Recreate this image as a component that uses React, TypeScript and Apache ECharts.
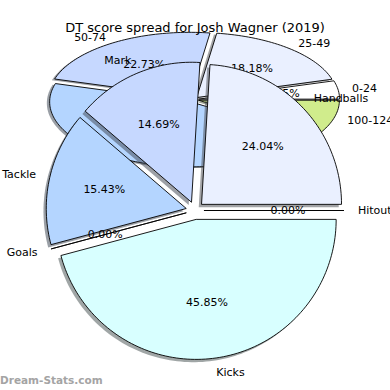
import React, { useEffect, useRef } from "react";
import * as echarts from "echarts";

const TITLE = "DT score spread for Josh Wagner (2019)";
const WATERMARK = "Dream-Stats.com";

// Front pie: DT score sources
const statCategories = ["Hitout", "Handballs", "Mark", "Tackle", "Goals", "Kicks"];
const statValues = [0, 24.04, 14.69, 15.43, 0, 45.85];
const statColors = ["#ffffff", "#eaf0ff", "#c6d8ff", "#b4d5ff", "#e8e8ff", "#d8ffff"];

// Background pie: DT score ranges (games)
const rangeCategories = ["0-24", "25-49", "50-74", "75-99", "100-124"];
const rangeCounts = [1, 4, 5, 10, 2];
const rangeColors = ["#ffffff", "#eaf0ff", "#c6d8ff", "#b4d5ff", "#d0ec8c"];

const FONT = "DejaVu Sans";

type Geo = { cx: number; cy: number; rx: number; ry: number; explode: number; shadow: number };

function shadowColor(hex: string) {
  const n = parseInt(hex.slice(1), 16);
  const r = Math.round(((n >> 16) & 255) * 0.3);
  const g = Math.round(((n >> 8) & 255) * 0.3);
  const b = Math.round((n & 255) * 0.3);
  return `rgba(${r},${g},${b},0.5)`;
}

function makeRenderer(values: number[], names: string[], colors: string[], geo: Geo) {
  const total = values.reduce((a, b) => a + b, 0);
  return (params: any) => {
    const i = params.dataIndex;
    let before = 0;
    for (let k = 0; k < i; k++) before += values[k];
    const a1 = (before / total) * 360;
    const a2 = ((before + values[i]) / total) * 360;
    const mid = ((a1 + a2) / 2) * (Math.PI / 180);
    const ox = geo.cx + geo.explode * geo.rx * Math.cos(mid);
    const oy = geo.cy - geo.explode * geo.ry * Math.sin(mid);
    const n = Math.max(2, Math.ceil((a2 - a1) / 1.5) + 1);
    const pts: number[][] = [[ox, oy]];
    for (let s = 0; s < n; s++) {
      const a = (a1 + ((a2 - a1) * s) / (n - 1)) * (Math.PI / 180);
      pts.push([ox + geo.rx * Math.cos(a), oy - geo.ry * Math.sin(a)]);
    }
    const sdx = -geo.shadow * geo.rx;
    const sdy = geo.shadow * geo.ry;
    const spts = pts.map((p) => [p[0] + sdx, p[1] + sdy]);
    const pct = ((values[i] / total) * 100).toFixed(2) + "%";
    const px = ox + 0.6 * geo.rx * Math.cos(mid);
    const py = oy - 0.6 * geo.ry * Math.sin(mid);
    const lx = ox + 1.1 * geo.rx * Math.cos(mid);
    const ly = oy - 1.1 * geo.ry * Math.sin(mid);
    return {
      type: "group",
      children: [
        {
          type: "polygon",
          z2: 0,
          shape: { points: spts },
          style: { fill: shadowColor(colors[i]), stroke: "none" },
        },
        {
          type: "polygon",
          z2: 1,
          shape: { points: pts },
          style: { fill: colors[i], stroke: "#000000", lineWidth: 0.9, lineJoin: "miter" },
        },
        {
          type: "text",
          z2: 2,
          style: {
            text: pct,
            x: px,
            y: py,
            align: "center",
            verticalAlign: "middle",
            fontSize: 11,
            fontFamily: FONT,
            fill: "#000000",
          },
        },
        {
          type: "text",
          z2: 2,
          style: {
            text: names[i],
            x: lx,
            y: ly,
            align: lx > geo.cx ? "left" : "right",
            verticalAlign: "middle",
            fontSize: 11,
            fontFamily: FONT,
            fill: "#000000",
          },
        },
      ],
    };
  };
}

export default function App() {
  const ref = useRef<HTMLDivElement>(null);
  useEffect(() => {
    if (!ref.current) return;
    const chart = echarts.init(ref.current, null, { renderer: "svg" });
    const backGeo: Geo = { cx: 193, cy: 99.5, rx: 141, ry: 65, explode: 0.04, shadow: 0.02 };
    const frontGeo: Geo = { cx: 195, cy: 210.5, rx: 140, ry: 140, explode: 0.064, shadow: 0.02 };
    chart.setOption({
      animation: false,
      backgroundColor: "#ffffff",
      title: {
        text: TITLE,
        left: "center",
        top: 16,
        textStyle: { fontFamily: FONT, fontSize: 13, fontWeight: "normal", color: "#000000" },
      },
      graphic: [
        {
          type: "text",
          left: 0,
          top: 374,
          z: 10,
          style: {
            text: WATERMARK,
            fontSize: 10.5,
            fontWeight: "bold",
            fontFamily: FONT,
            fill: "#a4a4a4",
          },
        },
      ],
      series: [
        {
          type: "custom",
          coordinateSystem: "none",
          z: 1,
          silent: true,
          data: rangeCounts.map((v, i) => ({ value: v, name: rangeCategories[i] })),
          renderItem: makeRenderer(rangeCounts, rangeCategories, rangeColors, backGeo),
        },
        {
          type: "custom",
          coordinateSystem: "none",
          z: 2,
          silent: true,
          data: statValues.map((v, i) => ({ value: v, name: statCategories[i] })),
          renderItem: makeRenderer(statValues, statCategories, statColors, frontGeo),
        },
      ],
    });
    return () => chart.dispose();
  }, []);
  return (
    <div
      ref={ref}
      style={{ position: "fixed", left: 0, top: 0, width: 390, height: 390, background: "#fff" }}
    />
  );
}
